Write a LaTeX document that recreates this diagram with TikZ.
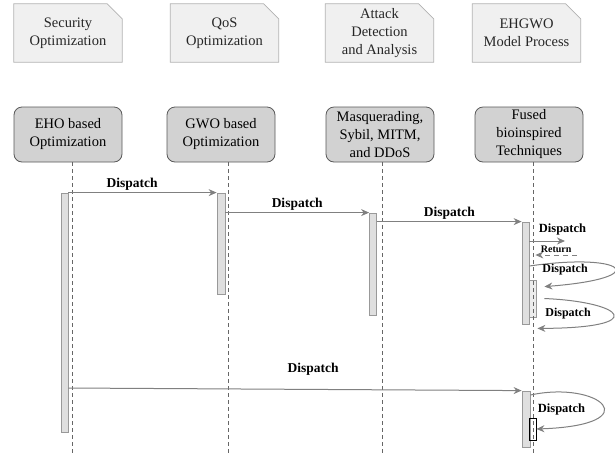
\documentclass[tikz,border=0pt]{standalone}
\usepackage{fontspec}
\setmainfont{Liberation Serif}
\newfontfamily\tnr{Liberation Serif}
\usetikzlibrary{arrows.meta,backgrounds}
\tikzset{note/.style={minimum width=108pt, minimum height=58pt, align=center, inner sep=0pt, text=black!85, font=\tnr\fontsize{14.5}{18}\selectfont}}
\tikzset{notebd/.style={draw=black!30, fill=gray!12, line width=0.8pt}}
\tikzset{head/.style={draw=black!65, fill=gray!35, rounded corners=8pt, line width=0.8pt, minimum width=108pt, minimum height=55pt, align=center, inner sep=0pt, font=\tnr\fontsize{14.5}{18}\selectfont}}
\tikzset{bar/.style={draw=black!40, fill=gray!25, line width=0.8pt, minimum width=7pt, inner sep=0pt}}
\tikzset{life/.style={draw=black!60, dash pattern=on 4pt off 3pt, line width=0.7pt}}
\tikzset{msg/.style={draw=black!50, line width=1pt, -{Stealth[length=8pt,width=7pt]}}}
\tikzset{lbl/.style={font=\tnr\bfseries\fontsize{13.5}{15}\selectfont, inner sep=0pt}}
\tikzset{slbl/.style={lbl, font=\tnr\bfseries\fontsize{12.5}{14}\selectfont}}

\begin{document}
\begin{tikzpicture}[x=1pt, y=-1pt]
\useasboundingbox (0,0) rectangle (615,456);
% notes on top
\foreach \n/\x/\t in {sec/68/{Security\\Optimization}, qos/224.5/{QoS\\Optimization}, att/379.5/{Attack\\Detection\\and Analysis}, ehg/526.5/{EHGWO\\Model Process}} {
  \node[note] (\n) at (\x,33) {\t};
  \begin{scope}[on background layer]
    \draw[notebd] (\n.north west) -- ([xshift=-15pt]\n.north east) -- ([yshift=-15pt]\n.north east) -- (\n.south east) -- (\n.south west) -- cycle;
  \end{scope}
}
% lifeline heads
\foreach \n/\x/\t in {eho/68/{EHO based\\Optimization}, gwo/221/{GWO based\\Optimization}, masq/380/{Masquerading,\\Sybil, MITM,\\and DDoS}, fus/529/{Fused\\bioinspired\\Techniques}}
  \node[head] (\n) at (\x,134.5) {\t};

% activation bars
\node[bar, minimum height=239pt] (ehoA) at (64.5,312.5) {};
\node[bar, minimum height=101pt, minimum width=8pt] (gwoA) at (221,243.5) {};
\node[bar, minimum height=102pt] (masqA) at (373,264) {};
\node[bar, minimum height=102pt] (fusA) at (525.5,273) {};
\node[bar, minimum height=37pt, fill=gray!15] (fusS) at (532.5,298.5) {};
\node[bar, minimum height=56pt, minimum width=8pt] (fusB) at (526,419) {};
\node[draw=black, line width=0.8pt, minimum width=7pt, minimum height=22pt, inner sep=0pt] (fusC) at (532.5,429) {};

% lifelines
\foreach \n/\lx in {eho/72, gwo/228, masq/382, fus/533} {
  \coordinate (\n-end) at (\lx,456);
  \draw[life] (\n.south -| \n-end) -- (\n-end);
}

% messages
\draw[msg] (ehoA.north east) -- node[lbl, above=2pt, pos=0.43] (l1) {Dispatch} (gwoA.north west);
\draw[msg] (gwoA.east |- masqA.north) -- node[lbl, above=2pt] (l2) {Dispatch} (masqA.north west);
\draw[msg] (masqA.east |- fusA.north) -- node[lbl, above=2pt] (l3) {Dispatch} (fusA.north west);
\coordinate (r1) at (565,241);
\draw[msg] (fusA.east |- r1) -- node[slbl, pos=0, anchor=south west, xshift=9pt, yshift=5pt] (l4) {Dispatch} (r1);
\coordinate (r2) at (577,255);
\draw[msg, dash pattern=on 5pt off 4pt] (r2) -- node[lbl, font=\tnr\bfseries\fontsize{10}{11}\selectfont, above=2pt] (l5) {Return} ([xshift=6pt]fusA.east |- r2);
\draw[msg] (fusA.east |- 0,266) .. controls (625,252) and (655,278) .. ([shift={(8pt,-7pt)}]fusS.north east);
\node[slbl, font=\tnr\bfseries\fontsize{12}{14}\selectfont] (l6) at (565,270) {Dispatch};
\draw[msg] ([xshift=8pt]fusS.east) .. controls (625,302) and (650,328) .. ([shift={(8pt,-4pt)}]fusA.south east);
\node[slbl, font=\tnr\bfseries\fontsize{12}{14}\selectfont] (l7) at (568,314) {Dispatch};
\draw[msg] (ehoA.east |- 0,388) -- node[lbl, above=14pt, pos=0.54] (l8) {Dispatch} (fusB.north west);
\draw[msg] (fusB.east |- 0,395) .. controls (600,380) and (650,425) .. (fusC.east);
\node[slbl] (l9) at (561.5,409) {Dispatch};
\end{tikzpicture}
\end{document}
